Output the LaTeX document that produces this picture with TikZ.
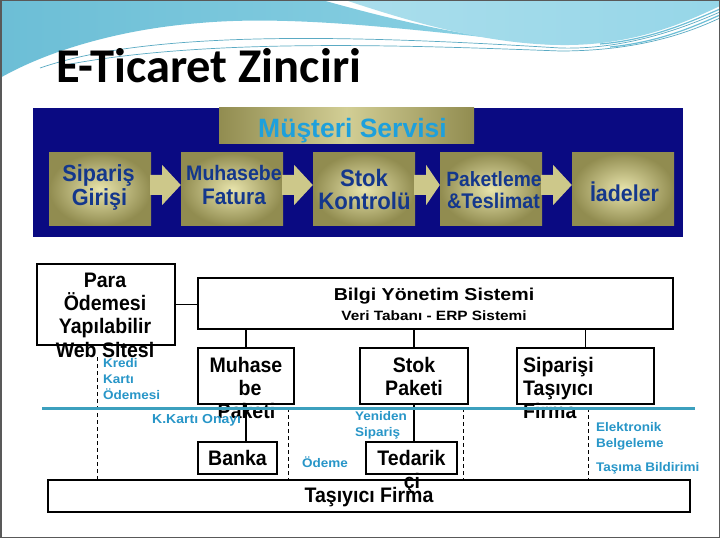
\documentclass[tikz,border=0pt]{standalone}
\usepackage{fontspec}
\setmainfont{Liberation Sans}[FakeStretch=1.08]
\newfontfamily\narrowf{Liberation Sans}[FakeStretch=0.93]
\newfontfamily\widef{Liberation Sans}[FakeStretch=1.14]
\newfontfamily\plainf{Liberation Sans}
\newfontfamily\titlefont{Carlito}
\usetikzlibrary{calc}
\definecolor{navy}{RGB}{10,10,130}
\definecolor{khL}{RGB}{232,228,172}
\definecolor{khD}{RGB}{145,140,80}
\definecolor{arrowc}{RGB}{205,200,138}
\definecolor{ptxt}{RGB}{20,55,140}
\definecolor{mstxt}{RGB}{30,160,220}
\definecolor{cytxt}{RGB}{40,150,200}
\definecolor{cline}{RGB}{60,160,190}
\definecolor{wvA}{RGB}{108,190,214}
\definecolor{wvB}{RGB}{140,210,228}
\definecolor{wvC}{RGB}{170,222,236}
\definecolor{wvD}{RGB}{150,214,232}
\definecolor{wvL}{RGB}{90,170,195}
\tikzset{
  pbox/.style={rectangle, inner sep=0, minimum width=102pt, minimum height=73pt, inner color=khL, outer color=khD},
  ptext/.style={inner sep=0, anchor=base, text=ptxt, font=\narrowf\bfseries\fontsize{23}{23}\selectfont},
  wbox/.style={rectangle, draw=black, line width=1.1pt, fill=white, inner sep=0},
  btext/.style={inner sep=0, anchor=base, text=black, font=\narrowf\bfseries\fontsize{21}{21}\selectfont},
  ctext/.style={inner sep=0, anchor=base west, text=cytxt, font=\bfseries\fontsize{12.5}{12.5}\selectfont},
  conn/.style={draw=black, line width=1.1pt},
  dconn/.style={draw=black, line width=0.9pt, dash pattern=on 4pt off 3pt},
  arrowst/.style={fill=arrowc},
  wline/.style={draw=wvL, line width=0.7pt},
}
\newcommand\blockarr[2]{%
  \fill[arrowst] ($(#1.east)+(-1,-14.5)$) -- ($(#1.east)+(11,-14.5)$) -- ($(#1.east)+(11,-24.5)$)
   -- ($(#2.west)+(0,-4.5)$) -- ($(#1.east)+(11,15.5)$) -- ($(#1.east)+(11,5.5)$)
   -- ($(#1.east)+(-1,5.5)$) -- cycle;}
\begin{document}
\begin{tikzpicture}[x=1pt,y=-1pt]
\useasboundingbox (0,0) rectangle (720,540);
\fill[white] (0,0) rectangle (720,540);
% top waves
\shade[left color=wvA, right color=wvB] (0,0) -- (322,0) .. controls (400,22) and (480,40) .. (558,45)
  .. controls (430,32) and (300,14) .. (200,23) .. controls (110,30) and (40,55) .. (0,78) -- cycle;
\shade[left color=wvC, right color=wvD] (345,0) .. controls (420,25) and (490,44) .. (560,45)
  .. controls (630,46) and (680,25) .. (720,6) -- (720,0) -- cycle;
\draw[wline] (40,68) .. controls (150,30) and (350,35) .. (560,48) .. controls (630,50) and (690,25) .. (720,12);
\draw[wline] (60,66) .. controls (200,38) and (400,45) .. (560,51) .. controls (640,51) and (690,32) .. (720,18);
\draw[draw=wvA, line width=1.2pt] (600,44) .. controls (650,40) and (690,22) .. (720,9);
\draw[draw=wvA, line width=1.2pt] (610,47) .. controls (660,42) and (695,26) .. (720,15);
% frame
\draw[line width=1.5pt, draw=black!65] (0.75,0.75) rectangle (719.25,537.5);
% title
\node[anchor=base west, inner sep=0, font=\titlefont\bfseries\fontsize{48.5}{48.5}\selectfont] (title) at (56,83) {E-Ticaret Zinciri};
% panel
\node[rectangle, fill=navy, inner sep=0, minimum width=650pt, minimum height=129pt] (panel) at (358,172.5) {};
\node[rectangle, inner sep=0, minimum width=255pt, minimum height=36pt, left color=khD, right color=khD, middle color=khL!75!khD] (msbox) at (346.5,126) {};
\node[inner sep=0, anchor=base, text=mstxt, font=\plainf\bfseries\fontsize{26.5}{26.5}\selectfont] (mstext) at (352.5,138) {Müşteri Servisi};
\node[pbox] (sip) at (100,189.5) {};
\node[pbox] (muh) at (232,189.5) {};
\node[pbox] (stok) at (364,189.5) {};
\node[pbox] (pak) at (491,189.5) {};
\node[pbox] (iade) at (623,189.5) {};
\blockarr{sip}{muh}
\blockarr{muh}{stok}
\blockarr{stok}{pak}
\blockarr{pak}{iade}
\node[ptext, font=\narrowf\bfseries\fontsize{23.3}{23.3}\selectfont] (sipA) at (98.5,182) {Sipariş};
\node[ptext, font=\narrowf\bfseries\fontsize{23.3}{23.3}\selectfont] (sipB) at (99.5,206) {Girişi};
\node[ptext, font=\narrowf\bfseries\fontsize{21}{21}\selectfont] (muhA) at (234,181) {Muhasebe};
\node[ptext, font=\narrowf\bfseries\fontsize{22.5}{22.5}\selectfont] (muhB) at (234,205) {Fatura};
\node[ptext, font=\narrowf\bfseries\fontsize{23.8}{23.8}\selectfont] (stkA) at (364,187) {Stok};
\node[ptext, font=\narrowf\bfseries\fontsize{23.8}{23.8}\selectfont] (stkB) at (364.5,210) {Kontrolü};
\node[ptext, font=\narrowf\bfseries\fontsize{20.7}{20.7}\selectfont] (pakA) at (494,187) {Paketleme};
\node[ptext, font=\narrowf\bfseries\fontsize{21.2}{21.2}\selectfont] (pakB) at (493.5,208) {\&Teslimat};
\node[ptext] (iadT) at (624.5,202) {İadeler};
% lower boxes
\node[wbox, minimum width=138pt, minimum height=81pt] (para) at (106,304.5) {};
\node[wbox, minimum width=475pt, minimum height=51pt] (bilgi) at (435.5,303.5) {};
\node[wbox, minimum width=96pt, minimum height=56pt] (muhp) at (246,376) {};
\node[wbox, minimum width=108pt, minimum height=56pt] (stokp) at (414,376) {};
\node[wbox, minimum width=137pt, minimum height=56pt] (sipt) at (585.5,376) {};
\node[wbox, minimum width=79pt, minimum height=32pt] (banka) at (237.5,458) {};
\node[wbox, minimum width=91pt, minimum height=32pt] (ted) at (411.5,458) {};
\node[wbox, minimum width=642pt, minimum height=32pt] (tas) at (369,496) {};
% solid connectors
\draw[conn] (para.east) -- (para.east -| bilgi.west);
\draw[conn] (muhp.north) -- (muhp.north |- bilgi.south);
\draw[conn] (stokp.north) -- (stokp.north |- bilgi.south);
\draw[conn] (sipt.north) -- (sipt.north |- bilgi.south);
\draw[conn] (muhp.south) -- (muhp.south |- banka.north);
\draw[conn] (stokp.south) -- (stokp.south |- ted.north);
% dashed connectors
\coordinate (dA) at (97,357);
\coordinate (dB) at (288,408);
\coordinate (dC) at (463,408);
\coordinate (dD) at (588,408);
\draw[dconn] (dA) -- (dA |- tas.north);
\draw[dconn] (dB) -- (dB |- tas.north);
\draw[dconn] (dC) -- (dC |- tas.north);
\draw[dconn] (dD) -- (dD |- tas.north);
\draw[dconn] ($(banka.north east)+(0,9)$) -- ($(banka.north east)+(0,9)$ -| ted.west);
% black texts
\node[btext] (paraA) at (105,287) {Para};
\node[btext] (paraB) at (105,310) {Ödemesi};
\node[btext] (paraC) at (105,333) {Yapılabilir};
\node[btext] (paraD) at (105,357) {Web Sitesi};
\node[btext, font=\widef\bfseries\fontsize{17.2}{17.2}\selectfont] (bilgiA) at (434,300) {Bilgi Yönetim Sistemi};
\node[btext, font=\widef\bfseries\fontsize{13.5}{13.5}\selectfont] (bilgiB) at (434,320) {Veri Tabanı - ERP Sistemi};
\node[btext] (muhpA) at (246,372) {Muhase};
\node[btext] (muhpB) at (250,395) {be};
\node[btext] (muhpC) at (246.5,418) {Paketi};
\node[btext] (stokpA) at (414,372) {Stok};
\node[btext] (stokpB) at (414,395) {Paketi};
\node[btext, anchor=base west] (siptA) at (523,372) {Siparişi};
\node[btext, anchor=base west] (siptB) at (523,395) {Taşıyıcı};
\node[btext, anchor=base west] (siptC) at (523,418) {Firma};
\node[btext] (bankaT) at (237.5,465) {Banka};
\node[btext] (tedA) at (411.5,465) {Tedarik};
\node[btext] (tedB) at (412,488) {çi};
\node[btext] (tasT) at (369,502) {Taşıyıcı Firma};
% cyan texts
\node[ctext] (krA) at (103,367) {Kredi};
\node[ctext] (krB) at (103,383) {Kartı};
\node[ctext] (krC) at (103,399) {Ödemesi};
\node[ctext, font=\bfseries\fontsize{13}{13}\selectfont] (kko) at (152,423) {K.Kartı Onayı};
\node[ctext] (yenA) at (355,420) {Yeniden};
\node[ctext] (yenB) at (355,436) {Sipariş};
\node[ctext] (odm) at (302,467) {Ödeme};
\node[ctext] (elkA) at (596,431) {Elektronik};
\node[ctext] (elkB) at (596,447) {Belgeleme};
\node[ctext] (tsm) at (596,471) {Taşıma Bildirimi};
% cyan line
\coordinate (clA) at (42,408.5);
\coordinate (clB) at (695,408.5);
\draw[draw=cline, line width=3pt] (clA) -- (clB);
\end{tikzpicture}
\end{document}
